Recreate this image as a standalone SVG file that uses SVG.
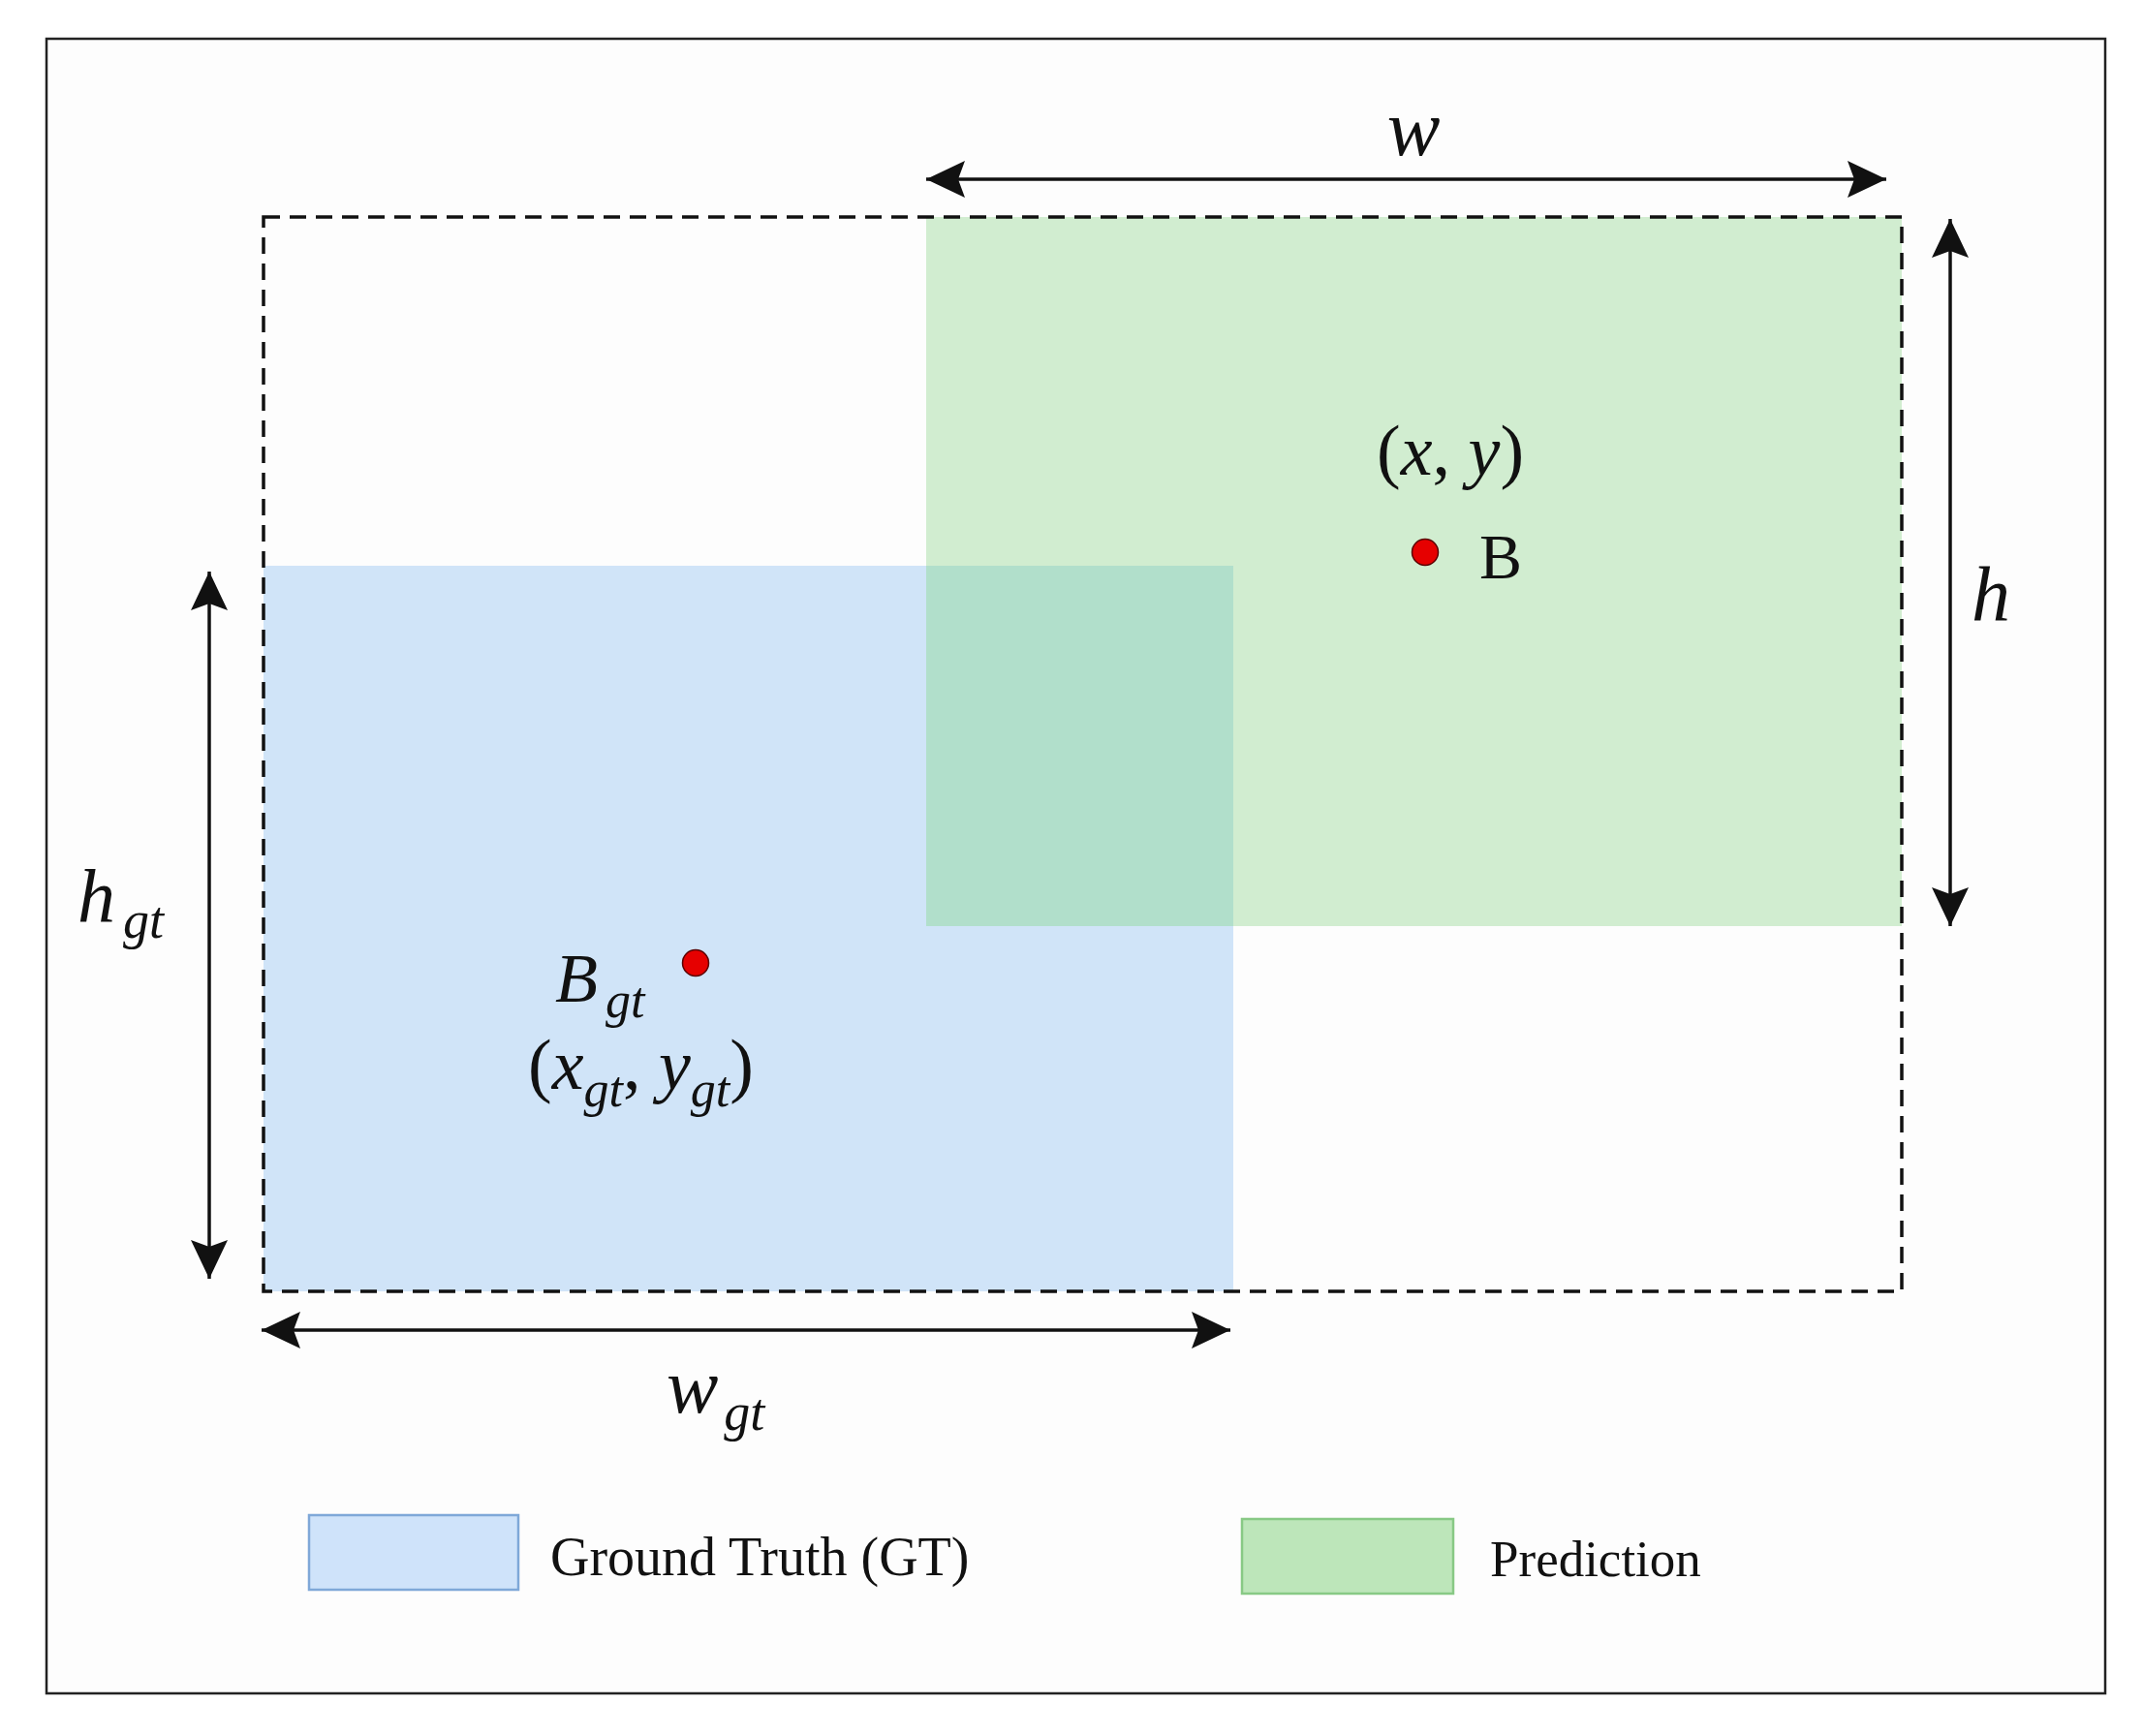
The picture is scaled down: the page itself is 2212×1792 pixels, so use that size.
<svg xmlns="http://www.w3.org/2000/svg" width="2212" height="1792" viewBox="0 0 2212 1792">
  <style>
    .lbl { font-family: "Liberation Serif", "Times New Roman", serif; fill: #111; }
    .it { font-style: italic; }
    .arrow { stroke: #111; stroke-width: 3.5; fill: none; marker-start: url(#ah); marker-end: url(#ah); }
    .dot { fill: #e60000; stroke: #5a0000; stroke-width: 1.5; }
  </style>
  <defs>
    <marker id="ah" markerUnits="userSpaceOnUse" markerWidth="46" markerHeight="46" viewBox="-42 -23 46 46" refX="0" refY="0" orient="auto-start-reverse">
      <path d="M0,0 L-40,-19 L-33,0 L-40,19 Z" fill="#111"/>
    </marker>
  </defs>
  <rect x="0" y="0" width="2212" height="1792" fill="#ffffff"/>
  <g id="frame">
    <rect x="48" y="40" width="2125" height="1708" fill="#fdfdfd" stroke="#222" stroke-width="2.5"/>
  </g>
  <g id="ground-truth-box">
    <rect x="272" y="584" width="1001" height="749" fill="#d0e4f8"/>
  </g>
  <g id="prediction-box">
    <rect x="956" y="224" width="1007" height="732" fill="#d1edd0"/>
    <rect x="956" y="584" width="317" height="372" fill="#b1dfcb"/>
  </g>
  <g id="enclosing-box">
    <rect x="272" y="224" width="1691" height="1109" fill="none" stroke="#111" stroke-width="3.5" stroke-dasharray="17 10"/>
  </g>
  <g id="connectors">
    <line class="arrow" x1="956" y1="185" x2="1947" y2="185"/>
    <line class="arrow" x1="2013" y1="226" x2="2013" y2="956"/>
    <line class="arrow" x1="216" y1="590" x2="216" y2="1320"/>
    <line class="arrow" x1="270" y1="1373" x2="1270" y2="1373"/>
  </g>
  <g id="label-w">
    <text class="lbl it" x="1459" y="160" font-size="82" text-anchor="middle">w</text>
  </g>
  <g id="label-h">
    <text class="lbl it" x="2035" y="640" font-size="80">h</text>
  </g>
  <g id="label-hgt">
    <text class="lbl it" x="80" y="952" font-size="78">h<tspan font-size="54" dx="8" dy="16">gt</tspan></text>
  </g>
  <g id="label-wgt">
    <text class="lbl it" x="688" y="1458" font-size="80">w<tspan font-size="54" dx="6" dy="18">gt</tspan></text>
  </g>
  <g id="center-B">
    <circle class="dot" cx="1471" cy="570" r="13.5"/>
    <text class="lbl" x="1421" y="490" font-size="74">(<tspan class="it">x</tspan>, <tspan class="it">y</tspan>)</text>
    <text class="lbl" x="1527" y="597" font-size="66">B</text>
  </g>
  <g id="center-Bgt">
    <circle class="dot" cx="718" cy="994" r="13.5"/>
    <text class="lbl it" x="573" y="1034" font-size="72">B<tspan font-size="52" dx="8" dy="16">gt</tspan></text>
    <text class="lbl" x="545" y="1124" font-size="74">(<tspan class="it">x</tspan><tspan class="it" font-size="52" dy="18">gt</tspan><tspan dy="-18">, </tspan><tspan class="it">y</tspan><tspan class="it" font-size="52" dy="18">gt</tspan><tspan dy="-18">)</tspan></text>
  </g>
  <g id="legend-gt">
    <rect x="319" y="1564" width="216" height="77" fill="#cfe3fa" stroke="#7fa8d8" stroke-width="2.5"/>
    <text class="lbl" x="568" y="1626" font-size="56">Ground Truth (GT)</text>
  </g>
  <g id="legend-pred">
    <rect x="1282" y="1568" width="218" height="77" fill="#bde6ba" stroke="#88c985" stroke-width="2.5"/>
    <text class="lbl" x="1538" y="1627" font-size="53">Prediction</text>
  </g>
</svg>
